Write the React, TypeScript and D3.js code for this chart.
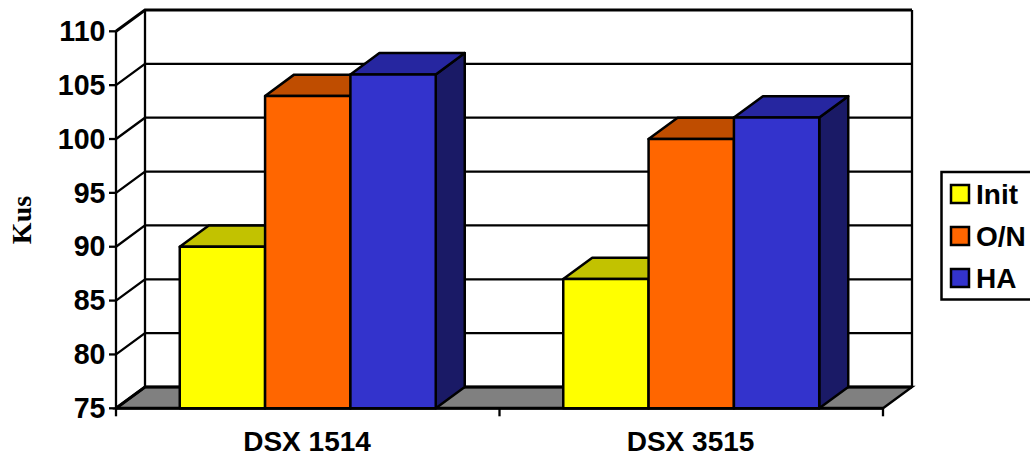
import React from "react";
import * as d3 from "d3";

const categories = ["DSX 1514", "DSX 3515"];
const seriesNames = ["Init", "O/N", "HA"];
const initValues = [90, 87];
const onValues = [104, 100];
const haValues = [106, 102];
const yTicks = [75, 80, 85, 90, 95, 100, 105, 110];
const frontColors = ["#ffff00", "#ff6600", "#3333cc"];
const topColors = ["#c2c200", "#bf4d00", "#2626a0"];
const sideColors = ["#8f8f00", "#8f3900", "#1a1a66"];

const DX = 29;
const DY = -21.3;
const FONT = "'Liberation Sans', Arial, sans-serif";
const FS = 28;

export default function App() {
  const values = [initValues, onValues, haValues];
  const y = d3.scaleLinear().domain([75, 110]).range([408.3, 31.3]);
  const x0 = d3.scaleBand<string>().domain(categories).range([116, 883]).paddingInner(0.3325).paddingOuter(0.16625);
  const x1 = d3.scaleBand<string>().domain(seriesNames).range([0, x0.bandwidth()]);
  const [L, R] = x0.range();
  const base = y(75);
  const top = y(110);
  const axisStep = (R - L) / categories.length;
  const xTicks = d3.range(categories.length + 1).map((i) => L + i * axisStep);

  const floor = d3.line()([[L, base], [L + DX, base + DY], [R + DX, base + DY], [R, base]]) + "Z";

  return (
    <svg width={1030} height={457} style={{ position: "absolute", left: 0, top: 0, background: "#fff" }}>
      <path d={floor} fill="#808080" stroke="#000" strokeWidth={2.4} />
      {yTicks.map((t) => (
        <path key={t} d={d3.line()([[L, y(t)], [L + DX, y(t) + DY], [R + DX, y(t) + DY]]) as string}
          fill="none" stroke="#000" strokeWidth={t === 110 || t === 75 ? 3 : 2.3} />
      ))}
      <line x1={L + DX} x2={L + DX} y1={top + DY} y2={base + DY} stroke="#000" strokeWidth={2.3} />
      <line x1={R + DX} x2={R + DX} y1={top + DY} y2={base + DY} stroke="#000" strokeWidth={2.3} />
      <line x1={L} x2={L} y1={top} y2={base} stroke="#000" strokeWidth={2.3} />
      <line x1={L} x2={R} y1={base} y2={base} stroke="#000" strokeWidth={3} />
      {yTicks.map((t) => (
        <g key={t}>
          <line x1={L - 7} x2={L} y1={y(t)} y2={y(t)} stroke="#000" strokeWidth={2.3} />
          <text x={L - 10.5} y={y(t) + 9.7} textAnchor="end" fontFamily={FONT} fontWeight="bold" fontSize={28.6} fill="#000">{t}</text>
        </g>
      ))}
      {xTicks.map((t) => (
        <line key={t} x1={t} x2={t} y1={base} y2={base + 8} stroke="#000" strokeWidth={2.3} />
      ))}
      {categories.map((c, ci) => (
        <g key={c}>
          {seriesNames.map((s, si) => {
            const bx = (x0(c) as number) + (x1(s) as number);
            const w = x1.bandwidth();
            const by = y(values[si][ci]);
            return (
              <g key={s} stroke="#000" strokeWidth={2.5} strokeLinejoin="round">
                <path d={d3.line()([[bx + w, by], [bx + w + DX, by + DY], [bx + w + DX, base + DY], [bx + w, base]]) + "Z"} fill={sideColors[si]} />
                <path d={d3.line()([[bx, by], [bx + DX, by + DY], [bx + w + DX, by + DY], [bx + w, by]]) + "Z"} fill={topColors[si]} />
                <rect x={bx} y={by} width={w} height={base - by} fill={frontColors[si]} />
              </g>
            );
          })}
          <text x={(x0(c) as number) + x0.bandwidth() / 2 - 0.7} y={451} textAnchor="middle" fontFamily={FONT} fontWeight="bold" fontSize={FS} fill="#000">{c}</text>
        </g>
      ))}
      <text transform="translate(30.5,220) rotate(-90)" textAnchor="middle" fontFamily="'Liberation Serif', serif" fontWeight="bold" fontSize={28} fill="#000">Kus</text>
      <rect x={941.5} y={172} width={92} height={127.5} fill="#fff" stroke="#000" strokeWidth={2.5} />
      {seriesNames.map((s, i) => (
        <g key={s}>
          <rect x={951} y={185 + i * 42} width={18} height={18} fill={frontColors[i]} stroke="#000" strokeWidth={2.5} />
          <text x={976} y={203.5 + i * 42.3} fontFamily={FONT} fontWeight="bold" fontSize={FS} fill="#000">{s}</text>
        </g>
      ))}
    </svg>
  );
}
